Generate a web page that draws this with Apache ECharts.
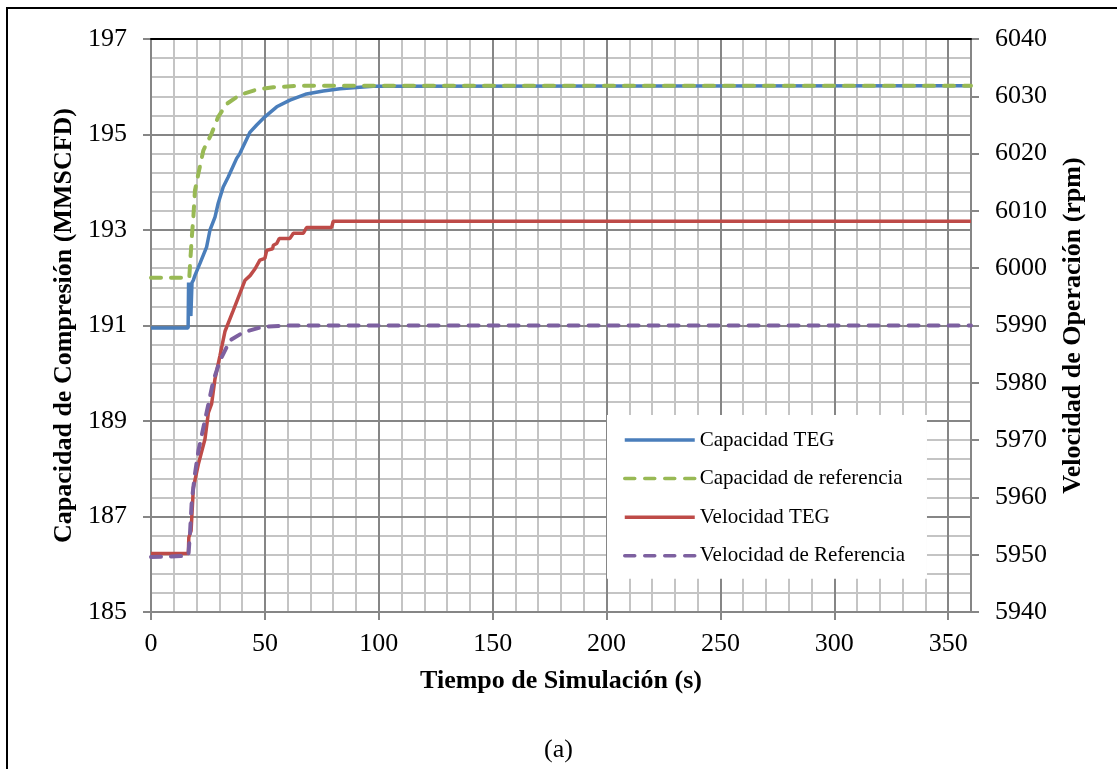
<!DOCTYPE html>
<html>
<head>
<meta charset="utf-8">
<script src="https://cdn.jsdelivr.net/npm/echarts@6/dist/echarts.min.js"></script>
<style>
  html, body { margin: 0; padding: 0; background: #fff; }
  #main { width: 1117px; height: 769px; }
</style>
</head>
<body>
<div id="main"></div>
<script>
// datos (tiempo en s)
var capTegT = [0, 16.3, 16.5, 17.0, 17.5, 18.0, 18.6, 19.3, 21.5, 24.4, 25.9, 28.1, 29.5, 31.7, 33.9, 37.6, 39.0, 43.5, 46.4, 50.0, 55.2, 61.0, 68.3, 75.6, 83.0, 97.5, 360];
var capTegV = [190.95, 190.95, 191.9, 191.3, 191.2, 191.9, 191.95, 192.05, 192.3, 192.64, 193.0, 193.27, 193.56, 193.9, 194.11, 194.5, 194.6, 195.05, 195.2, 195.37, 195.58, 195.72, 195.85, 195.91, 195.96, 196.01, 196.02];

var capRefT = [0, 16.8, 17.3, 18.0, 18.6, 19.3, 20.8, 23.0, 26.6, 29.5, 33.2, 39.1, 46.4, 53.7, 65, 360];
var capRefV = [192.0, 192.0, 192.4, 192.9, 193.27, 193.83, 194.18, 194.67, 195.02, 195.37, 195.64, 195.83, 195.94, 195.99, 196.02, 196.02];

var velTegT = [0, 16.4, 16.6, 17.1, 17.6, 18.3, 18.6, 20.8, 23.7, 25.2, 26.6, 28.1, 30.3, 32.5, 36.0, 41.3, 43.5, 45.7, 47.8, 50.0, 50.8, 53.4, 53.7, 55.2, 56.3, 61.0, 62.5, 66.9, 68.3, 79.3, 80.0, 360];
var velTegV = [5950.2, 5950.2, 5953.0, 5953.6, 5954.2, 5954.2, 5961.7, 5965.8, 5970.2, 5974.8, 5976.3, 5980.7, 5984.8, 5989.0, 5992.5, 5997.9, 5998.7, 5999.9, 6001.4, 6001.7, 6003.1, 6003.4, 6004.0, 6004.3, 6005.2, 6005.2, 6006.1, 6006.1, 6007.1, 6007.1, 6008.2, 6008.2];

var velRefT = [0, 16.4, 17.1, 17.9, 19.3, 20.8, 23.0, 25.2, 27.4, 30.3, 34.7, 40.5, 49.3, 60, 360];
var velRefV = [5949.6, 5949.8, 5953.6, 5959.4, 5964.1, 5968.1, 5972.2, 5976.3, 5980.4, 5983.9, 5987.4, 5988.8, 5989.8, 5990.0, 5990.0];

var xTicks = [0, 50, 100, 150, 200, 250, 300, 350];

function pares(t, v) {
  var out = [];
  for (var i = 0; i < t.length; i++) out.push([t[i], v[i]]);
  return out;
}

var fuente = "'Liberation Serif', 'Times New Roman', serif";
var gris = '#868686';
var grisClaro = '#c4c4c4';

var myChart = echarts.init(document.getElementById('main'));

var option = {
  animation: false,
  backgroundColor: '#fff',
  textStyle: { fontFamily: fuente },
  title: {
    text: '(a)',
    left: 'center',
    top: 732,
    textStyle: { fontFamily: fuente, fontSize: 26, fontWeight: 'normal', color: '#000' }
  },
  graphic: [{
    type: 'polyline',
    shape: { points: [[7, 769], [7, 8], [1117, 8]] },
    style: { stroke: '#000', lineWidth: 2, fill: null }
  }],
  grid: { left: 151, right: 146, top: 39, bottom: 157 },
  legend: {
    left: 607,
    top: 415,
    orient: 'vertical',
    backgroundColor: '#fff',
    padding: [14, 22, 12, 16],
    itemWidth: 70,
    itemHeight: 14,
    itemGap: 16.6,
    itemStyle: { opacity: 0 },
    lineStyle: { width: 3.5 },
    textStyle: { fontFamily: fuente, fontSize: 21, color: '#000', lineHeight: 22 },
    data: ['Capacidad TEG', 'Capacidad de referencia', 'Velocidad TEG', 'Velocidad de Referencia']
  },
  xAxis: [
    {
      type: 'value', min: 0, max: 360, interval: 10,
      axisLine: { show: false }, axisTick: { show: false }, axisLabel: { show: false },
      splitLine: { show: true, lineStyle: { color: grisClaro, width: 2 } },
      z: 0
    },
    {
      type: 'value', min: 0, max: 360, interval: 50, position: 'bottom',
      axisLine: { show: true, onZero: false, lineStyle: { color: gris, width: 2 } },
      axisTick: { show: true, length: 8, lineStyle: { color: gris, width: 2 }, customValues: xTicks },
      axisLabel: { show: true, margin: 19, fontFamily: fuente, fontSize: 26, color: '#000', customValues: xTicks },
      splitLine: { show: true, lineStyle: { color: gris, width: 2 } },
      name: 'Tiempo de Simulación (s)',
      nameLocation: 'middle',
      nameGap: 56,
      nameTextStyle: { fontFamily: fuente, fontSize: 26, fontWeight: 'bold', color: '#000' },
      z: 2
    },
    {
      type: 'value', min: 0, max: 360, position: 'top',
      axisLine: { show: true, onZero: false, lineStyle: { color: '#000', width: 2 } },
      axisTick: { show: false }, axisLabel: { show: false }, splitLine: { show: false },
      z: 3
    }
  ],
  yAxis: [
    {
      type: 'value', min: 185, max: 197, interval: 2, position: 'left',
      axisLine: { show: true, onZero: false, lineStyle: { color: gris, width: 2 } },
      axisTick: { show: true, length: 8, lineStyle: { color: gris, width: 2 } },
      axisLabel: { margin: 24, fontFamily: fuente, fontSize: 26, color: '#000' },
      splitLine: { show: true, lineStyle: { color: gris, width: 2 } },
      name: 'Capacidad de Compresión (MMSCFD)',
      nameLocation: 'middle',
      nameRotate: 90,
      nameGap: 74,
      nameTextStyle: { fontFamily: fuente, fontSize: 26, fontWeight: 'bold', color: '#000' },
      z: 2
    },
    {
      type: 'value', min: 5940, max: 6040, interval: 10, position: 'right',
      axisLine: { show: true, onZero: false, lineStyle: { color: gris, width: 2 } },
      axisTick: { show: true, length: 8, lineStyle: { color: gris, width: 2 } },
      axisLabel: {
        margin: 24, fontFamily: fuente, fontSize: 26, color: '#000',
        formatter: function (v) { return String(v); }
      },
      splitLine: { show: true, lineStyle: { color: grisClaro, width: 2 } },
      minorTick: { show: false, splitNumber: 3 },
      minorSplitLine: { show: true, lineStyle: { color: grisClaro, width: 2 } },
      name: 'Velocidad de Operación (rpm)',
      nameLocation: 'middle',
      nameRotate: 90,
      nameGap: 89,
      nameTextStyle: { fontFamily: fuente, fontSize: 26, fontWeight: 'bold', color: '#000' },
      z: 0
    }
  ],
  series: [
    {
      name: 'Capacidad TEG', type: 'line', xAxisIndex: 1, yAxisIndex: 0,
      showSymbol: false, symbol: 'none', z: 5,
      lineStyle: { color: '#4A7EBB', width: 3.5 }, itemStyle: { color: '#4A7EBB' },
      data: pares(capTegT, capTegV)
    },
    {
      name: 'Capacidad de referencia', type: 'line', xAxisIndex: 1, yAxisIndex: 0,
      showSymbol: false, symbol: 'none', z: 6,
      lineStyle: { color: '#98B954', width: 4, type: [10, 10], cap: 'round' }, itemStyle: { color: '#98B954' },
      data: pares(capRefT, capRefV)
    },
    {
      name: 'Velocidad TEG', type: 'line', xAxisIndex: 1, yAxisIndex: 1,
      showSymbol: false, symbol: 'none', z: 5,
      lineStyle: { color: '#BE4B48', width: 3.5 }, itemStyle: { color: '#BE4B48' },
      data: pares(velTegT, velTegV)
    },
    {
      name: 'Velocidad de Referencia', type: 'line', xAxisIndex: 1, yAxisIndex: 1,
      showSymbol: false, symbol: 'none', z: 6,
      lineStyle: { color: '#7D60A0', width: 4, type: [10, 10], cap: 'round' }, itemStyle: { color: '#7D60A0' },
      data: pares(velRefT, velRefV)
    }
  ]
};

myChart.setOption(option);
</script>
</body>
</html>
